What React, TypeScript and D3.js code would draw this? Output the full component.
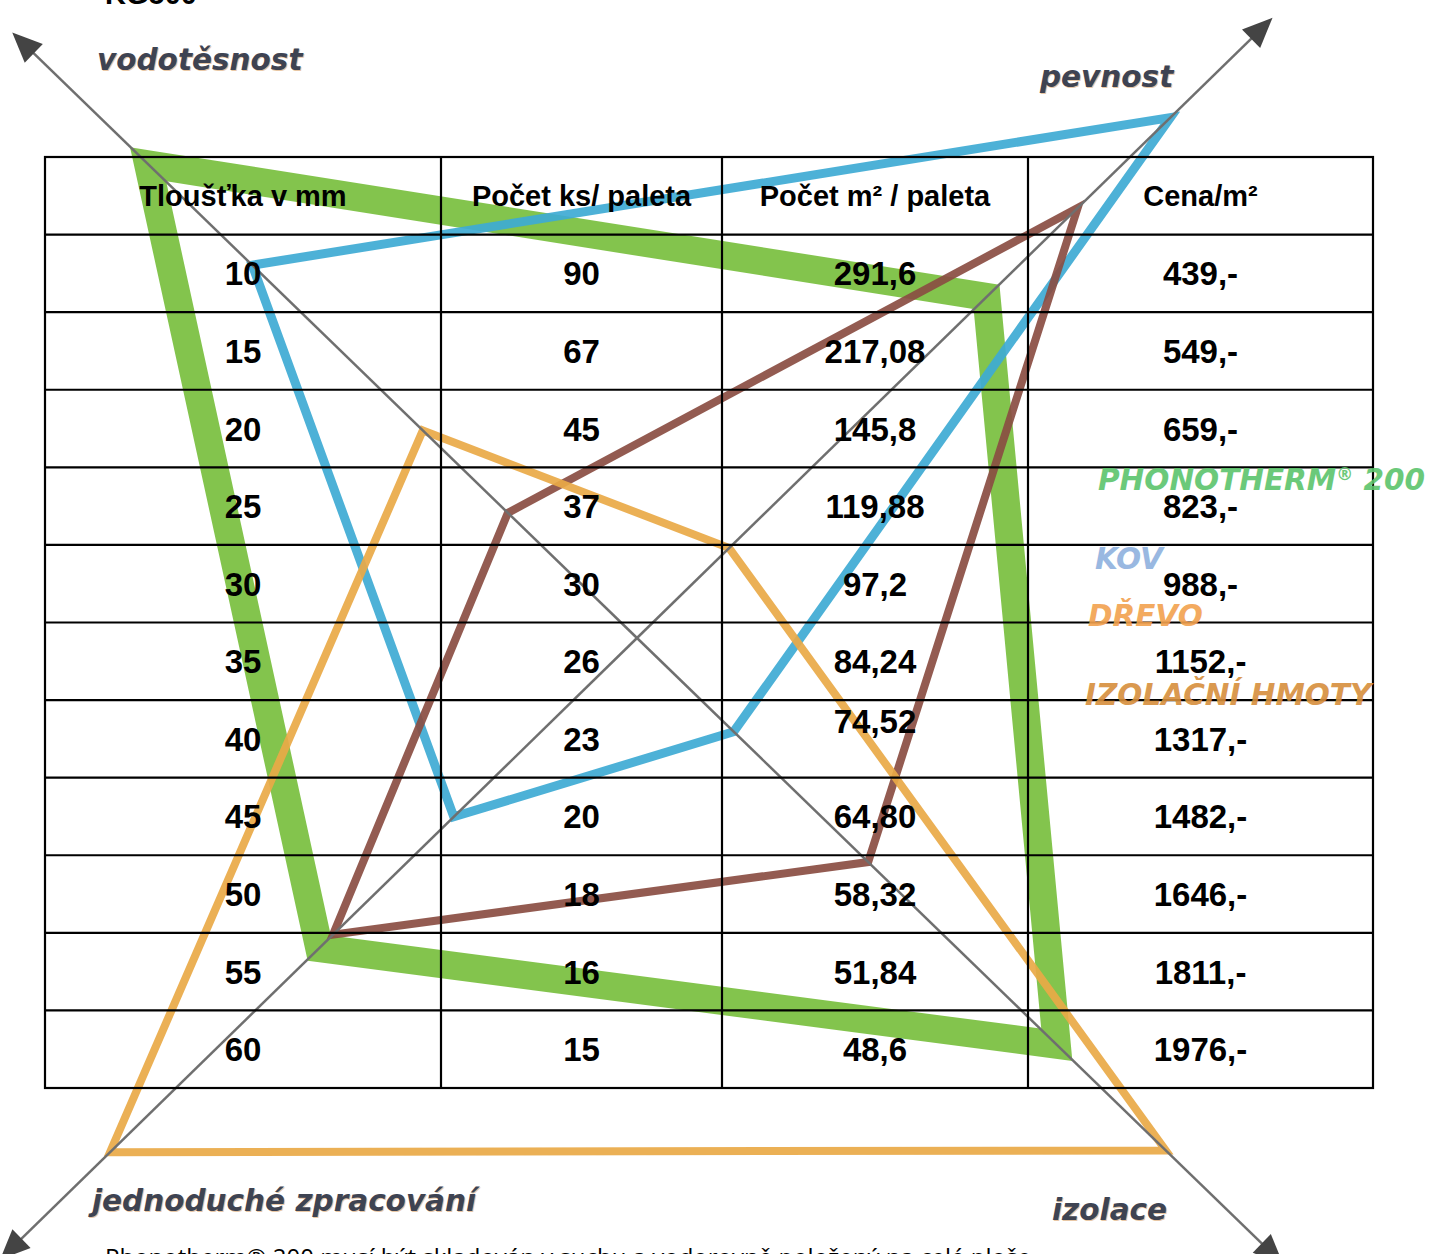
import React from 'react';
import * as d3 from 'd3';

// axes of the "spider" diagram, clockwise from top-left
const axisLabels = ['vodotěsnost', 'pevnost', 'izolace', 'jednoduché zpracování'];

// materials (series) and their score on each axis (0–10)
const seriesNames = ['PHONOTHERM', 'KOV', 'DŘEVO', 'IZOLAČNÍ HMOTY'];
const phonotherm = [9.2, 6.6, 7.9, 6.0];
const kov = [7.24, 10.07, 1.82, 3.46];
const drevo = [2.43, 8.32, 4.35, 5.74];
const izolacniHmoty = [4.03, 1.74, 9.95, 9.95];

// table
const headers = ['Tloušťka v mm', 'Počet ks/ paleta', 'Počet m² / paleta', 'Cena/m²'];
const thickness = ['10', '15', '20', '25', '30', '35', '40', '45', '50', '55', '60'];
const pcsPerPallet = ['90', '67', '45', '37', '30', '26', '23', '20', '18', '16', '15'];
const m2PerPallet = ['291,6', '217,08', '145,8', '119,88', '97,2', '84,24', '74,52', '64,80', '58,32', '51,84', '48,6'];
const pricePerM2 = ['439,-', '549,-', '659,-', '823,-', '988,-', '1152,-', '1317,-', '1482,-', '1646,-', '1811,-', '1976,-'];

const W = 1430;
const H = 1254;
const cx = 637;
const cy = 638;
const axisAngles = [-135.9, -44.3, 44.1, 135.7].map(a => (a * Math.PI) / 180);
const axisLengths = [870, 888, 900, 890];

const seriesStyle = [
  { color: '#7cc143', width: 28, label: '#5cc46c' },
  { color: '#3eaad4', width: 9, label: '#8fb1de' },
  { color: '#8a4d42', width: 8, label: '#f2a14e' },
  { color: '#e9a947', width: 8, label: '#d78f3c' },
];

const tableLeft = 45;
const tableRight = 1373;
const colEdges = [45, 441, 722, 1028, 1373];
const tableTop = 157;
const tableBottom = 1088;

export default function App() {
  const r = d3.scaleLinear().domain([0, 10]).range([0, 740]);
  const point = (i: number, v: number): [number, number] => [
    cx + Math.cos(axisAngles[i]) * r(v),
    cy + Math.sin(axisAngles[i]) * r(v),
  ];
  const polygon = d3.line<[number, number]>().curve(d3.curveLinearClosed);

  const allSeries = [phonotherm, kov, drevo, izolacniHmoty];

  const rowY = d3.scaleLinear().domain([0, 12]).range([tableTop, tableBottom]);
  const columns = [thickness, pcsPerPallet, m2PerPallet, pricePerM2];
  const colCenter = (c: number) => (colEdges[c] + colEdges[c + 1]) / 2;

  const arrowHead = (i: number) => {
    const a = axisAngles[i];
    const L = axisLengths[i];
    const tip: [number, number] = [cx + Math.cos(a) * L, cy + Math.sin(a) * L];
    const back = 30;
    const half = 13;
    const bx = tip[0] - Math.cos(a) * back;
    const by = tip[1] - Math.sin(a) * back;
    const px = -Math.sin(a) * half;
    const py = Math.cos(a) * half;
    return polygon([tip, [bx + px, by + py], [bx - px, by - py]]) as string;
  };

  const axisLabelPos: { x: number; y: number }[] = [
    { x: 97, y: 70 },
    { x: 1040, y: 87 },
    { x: 1052, y: 1220 },
    { x: 92, y: 1211 },
  ];

  const legendPos = [
    { x: 1098, y: 490 },
    { x: 1095, y: 569 },
    { x: 1088, y: 626 },
    { x: 1085, y: 705 },
  ];

  return (
    <div style={{ position: 'absolute', left: 0, top: 0 }}>
      <svg width={W} height={H} style={{ display: 'block', background: '#fff' }}>
        {/* cut-off title at the very top */}
        <text x={105} y={4} fontFamily="Liberation Sans, Arial, sans-serif" fontWeight="bold" fontSize={29} fill="#000">
          KG500
        </text>

        {/* series polygons */}
        {allSeries.map((vals, s) => (
          <path
            key={seriesNames[s]}
            d={polygon(vals.map((v, i) => point(i, v))) as string}
            fill="none"
            stroke={seriesStyle[s].color}
            strokeWidth={seriesStyle[s].width}
            strokeLinejoin="miter"
            strokeMiterlimit={10}
            opacity={s === 0 ? 0.95 : 0.92}
          />
        ))}

        {/* axes */}
        {axisAngles.map((a, i) => (
          <g key={axisLabels[i]}>
            <line
              x1={cx}
              y1={cy}
              x2={cx + Math.cos(a) * (axisLengths[i] - 20)}
              y2={cy + Math.sin(a) * (axisLengths[i] - 20)}
              stroke="#6f6f6f"
              strokeWidth={2.5}
            />
            <path d={arrowHead(i)} fill="#444" />
          </g>
        ))}

        {/* axis labels */}
        {axisLabels.map((t, i) => (
          <g key={t} fontFamily="DejaVu Sans, Verdana, sans-serif" fontWeight="bold" fontStyle="italic" fontSize={29.5}>
            <text x={axisLabelPos[i].x + 1} y={axisLabelPos[i].y + 1} fill="#d9a26a" opacity={0.6}>
              {t}
            </text>
            <text x={axisLabelPos[i].x} y={axisLabelPos[i].y} fill="#3e4352">
              {t}
            </text>
          </g>
        ))}

        {/* table grid */}
        <g stroke="#000" strokeWidth={2.2} fill="none">
          <rect x={tableLeft} y={tableTop} width={tableRight - tableLeft} height={tableBottom - tableTop} />
          {colEdges.slice(1, -1).map(x => (
            <line key={x} x1={x} x2={x} y1={tableTop} y2={tableBottom} />
          ))}
          {d3.range(1, 12).map(k => (
            <line key={k} x1={tableLeft} x2={tableRight} y1={rowY(k)} y2={rowY(k)} />
          ))}
        </g>

        {/* table text */}
        <g fontFamily="Liberation Sans, Arial, sans-serif" fontWeight="bold" fill="#000" textAnchor="middle">
          {headers.map((h, c) => (
            <text key={h} x={colCenter(c)} y={(rowY(0) + rowY(1)) / 2 + 10} fontSize={29}>
              {h}
            </text>
          ))}
          {columns.map((col, c) =>
            col.map((v, k) => {
              const yc = (rowY(k + 1) + rowY(k + 2)) / 2;
              const shift = v === '74,52' ? -18 : 0;
              return (
                <text key={`${c}-${k}`} x={colCenter(c)} y={yc + 12 + shift} fontSize={33}>
                  {v}
                </text>
              );
            })
          )}
        </g>

        {/* legend */}
        {seriesNames.map((n, s) => (
          <text
            key={n}
            x={legendPos[s].x}
            y={legendPos[s].y}
            fontFamily="DejaVu Sans, Verdana, sans-serif"
            fontWeight="bold"
            fontStyle="italic"
            fontSize={29.5}
            fill={seriesStyle[s].label}
            opacity={0.9}
          >
            {n}
            {s === 0 && (
              <>
                <tspan fontSize={17} dy={-10}>®</tspan>
                <tspan dy={10}> 200</tspan>
              </>
            )}
          </text>
        ))}

        {/* cut-off note at the bottom */}
        <text x={105} y={1266} fontFamily="Open Sans, Liberation Sans, sans-serif" fontSize={24} fill="#000">
          Phonotherm® 200 musí být skladován v suchu a vodorovně položený na celé ploše
        </text>
      </svg>
    </div>
  );
}
